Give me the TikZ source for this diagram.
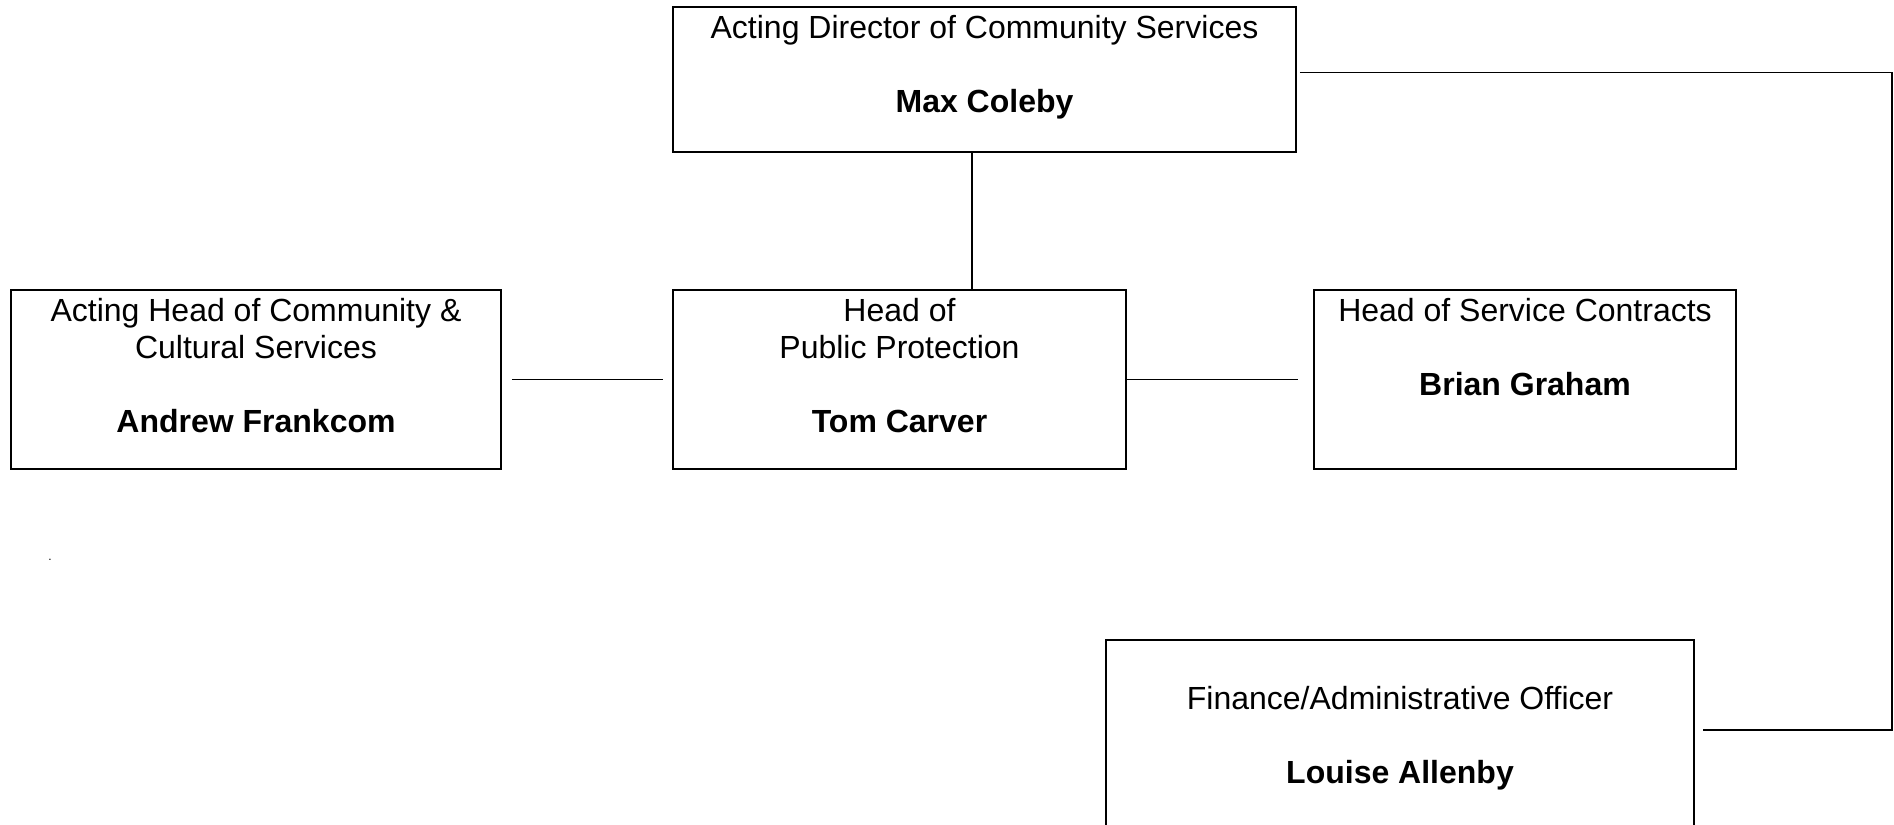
\documentclass[tikz,border=0pt]{standalone}
\usepackage{fontspec}
\setmainfont{Liberation Sans}
\begin{document}
\begin{tikzpicture}[x=1pt,y=-1pt,
  box/.style={draw=black,line width=1.6pt,rectangle,inner sep=0pt},
  txt/.style={align=center,inner sep=0pt,anchor=north,font=\fontsize{32}{37}\selectfont},
  conn/.style={draw=black,line width=1.8pt}]
\useasboundingbox (0,0) rectangle (1894,824);
\clip (0,0) rectangle (1894,824);
% boxes
\node[box,minimum width=623pt,minimum height=145pt] (dir) at (984.5,79.5) {};
\node[box,minimum width=490pt,minimum height=179pt] (ac) at (256,379.5) {};
\node[box,minimum width=453pt,minimum height=179pt] (pp) at (899.5,379.5) {};
\node[box,minimum width=422pt,minimum height=179pt] (sc) at (1525,379.5) {};
\node[box,minimum width=588pt,minimum height=300pt] (fa) at (1400,790) {};
% texts
\node[txt] (dirt) at ([yshift=-8.5]dir.north) {Acting Director of Community Services\\[37pt]\textbf{Max Coleby}};
\node[txt] (act) at ([yshift=-8.5]ac.north) {Acting Head of Community \&\\Cultural Services\\[37pt]\textbf{Andrew Frankcom}};
\node[txt] (ppt) at ([yshift=-8.5]pp.north) {Head of\\Public Protection\\[37pt]\textbf{Tom Carver}};
\node[txt] (sct) at ([yshift=-8.5]sc.north) {Head of Service Contracts\\[37pt]\textbf{Brian Graham}};
\node[txt] (fat) at ([yshift=-46.5]fa.north) {Finance/Administrative Officer\\[37pt]\textbf{Louise Allenby}};
\node[inner sep=0pt,font=\fontsize{12}{14}\selectfont] (dot) at (50,560) {.};
% connector coordinates
\coordinate (vx) at (972,0);
\coordinate (ry1) at (0,72.5);
\coordinate (ry2) at (0,730);
\coordinate (rx) at (1892,0);
% connectors
\draw[conn] (dir.south -| vx) -- (pp.north -| vx);
\draw[conn] ([xshift=10]ac.east) -- ([xshift=-9]pp.west);
\draw[conn] (pp.east) -- ([xshift=-15]sc.west);
\draw[conn] ([xshift=3]dir.east |- ry1) -- (rx |- ry1) -- (rx |- ry2) -- ([xshift=8]fa.east |- ry2);
\end{tikzpicture}
\end{document}
